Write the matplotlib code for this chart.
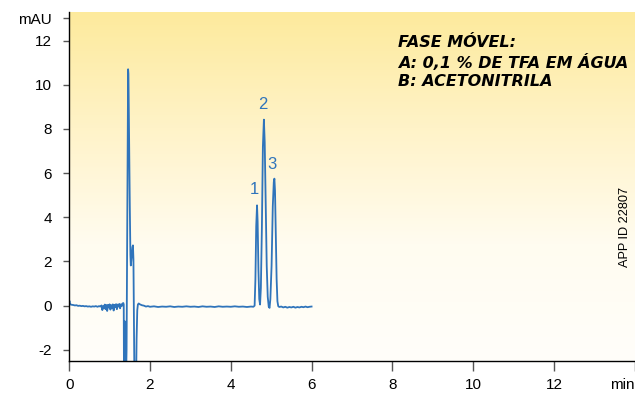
import numpy as np
import matplotlib.pyplot as plt
from matplotlib.colors import LinearSegmentedColormap

plt.rcParams['font.family'] = ['Liberation Sans', 'DejaVu Sans']

# chromatogram trace: retention time (min) and absorbance (mAU)
time_min = [
    0.000, 0.005, 0.012, 0.03, 0.06, 0.10, 0.14, 0.18, 0.22, 0.26, 0.30, 0.34,
    0.38, 0.42, 0.46, 0.50, 0.54, 0.58, 0.62, 0.66, 0.70, 0.74, 0.77, 0.80,
    0.82, 0.84, 0.86, 0.88, 0.90, 0.92, 0.94, 0.96, 0.98, 1.00, 1.02, 1.04,
    1.06, 1.08, 1.10, 1.12, 1.14, 1.16, 1.18, 1.20, 1.22, 1.24, 1.26, 1.28,
    1.30, 1.32, 1.34,
    1.350, 1.356, 1.366, 1.372, 1.380, 1.386, 1.405, 1.420, 1.440, 1.458,
    1.466, 1.480, 1.500, 1.515, 1.525, 1.545, 1.565, 1.578, 1.590, 1.605,
    1.615, 1.655, 1.668, 1.685, 1.700, 1.720, 1.750, 1.80,
    1.85, 1.90, 1.95, 2.00, 2.10, 2.20, 2.30, 2.40, 2.50, 2.60, 2.70, 2.80,
    2.90, 3.00, 3.10, 3.20, 3.30, 3.40, 3.50, 3.60, 3.70, 3.80, 3.90, 4.00,
    4.10, 4.20, 4.30, 4.40, 4.50, 4.56,
    4.59, 4.61, 4.63, 4.650, 4.665, 4.685, 4.705, 4.725, 4.745, 4.770, 4.795,
    4.820, 4.840, 4.865, 4.890, 4.915, 4.940, 4.960, 4.980, 5.010, 5.040,
    5.065, 5.080, 5.095, 5.115, 5.135, 5.155, 5.175,
    5.20, 5.25, 5.30, 5.35, 5.40, 5.45, 5.50, 5.55, 5.60, 5.65, 5.70, 5.75,
    5.80, 5.85, 5.90, 5.95, 6.00,
]
signal_mau = [
    0.05, 0.22, 0.10, 0.06, 0.04, 0.03, 0.01, 0.02, -0.01, 0.00, -0.02, -0.01,
    -0.03, -0.02, -0.04, -0.03, -0.05, -0.03, -0.04, -0.02, -0.05, -0.02, -0.04, 0.01,
    -0.20, -0.02, -0.12, 0.05, -0.16, 0.03, -0.24, 0.04, -0.08, 0.06, -0.18, 0.02,
    -0.10, 0.06, -0.22, 0.04, -0.06, 0.07, -0.16, 0.05, -0.04, 0.08, -0.12, 0.06,
    -0.02, 0.10, 0.12,
    0.05, -3.5, -3.5, -0.70, -0.75, -3.5, -3.5, -2.0, 5.0, 10.7,
    10.5, 8.0, 4.5, 2.3, 1.82, 2.2, 2.65, 2.73, 2.1, -1.0,
    -3.5, -3.5, -1.5, -0.2, 0.05, 0.10, 0.06, 0.02,
    0.00, -0.04, -0.02, -0.05, -0.03, -0.06, -0.04, -0.05, -0.03, -0.06, -0.04, -0.05,
    -0.03, -0.05, -0.04, -0.06, -0.03, -0.05, -0.04, -0.06, -0.03, -0.05, -0.04, -0.05,
    -0.03, -0.05, -0.04, -0.06, -0.04, -0.05,
    0.00, 1.2, 3.6, 4.54, 3.8, 1.6, 0.3, 0.05, 0.8, 3.5, 7.2,
    8.42, 7.4, 4.5, 1.8, 0.4, -0.05, -0.10, 0.3, 1.8, 4.5,
    5.6, 5.75, 5.2, 3.3, 1.2, 0.2, -0.02,
    -0.06, -0.04, -0.08, -0.05, -0.09, -0.06, -0.08, -0.05, -0.09, -0.06, -0.08, -0.05,
    -0.07, -0.04, -0.07, -0.05, -0.04,
]

peak_ids = ["1", "2", "3"]
peak_label_t = [4.58, 4.80, 5.03]
peak_label_y = [5.25, 9.1, 6.4]

x_ticks = [0, 2, 4, 6, 8, 10, 12, 14]
x_tick_labels = ["0", "2", "4", "6", "8", "10", "12", "min"]
y_ticks = [-2, 0, 2, 4, 6, 8, 10, 12, 13]
y_tick_labels = ["-2", "0", "2", "4", "6", "8", "10", "12", "mAU"]

blue = "#2f74bb"

fig = plt.figure(figsize=(6.35, 3.94), dpi=100)
ax = fig.add_axes([0.109, 0.084, 0.8905, 0.886])
xmin, xmax, ymin, ymax = 0, 14, -2.5, 13.3

# yellow-to-white background fade
bg = LinearSegmentedColormap.from_list(
    "bg", ["#fffefa", "#fffcf0", "#fff3c8", "#fdea9c"])
grad = np.linspace(0, 1, 256).reshape(-1, 1)
ax.imshow(grad, cmap=bg, origin="lower", aspect="auto",
          extent=[xmin, xmax, ymin, ymax], zorder=0)

ax.plot(time_min, signal_mau, color=blue, lw=1.3, zorder=2)

for lab, t, y in zip(peak_ids, peak_label_t, peak_label_y):
    ax.text(t, y, lab, color=blue, fontsize=12, ha="center", va="center")

ax.set_xlim(xmin, xmax)
ax.set_ylim(ymin, ymax)
ax.set_xticks(x_ticks)
ax.set_xticklabels(x_tick_labels)
ax.set_yticks(y_ticks)
ax.set_yticklabels(y_tick_labels)
ax.get_xticklabels()[-1].set_ha("right")

ax.tick_params(axis="x", direction="out", length=7, width=1, color="#555555",
               labelsize=11, pad=5)
ax.tick_params(axis="y", direction="out", length=4.5, width=1, color="#555555",
               labelsize=11, pad=8)
for side in ["top", "right"]:
    ax.spines[side].set_visible(False)
for side in ["left", "bottom"]:
    ax.spines[side].set_linewidth(1)
    ax.spines[side].set_zorder(3)

ax.text(0.581, 0.934, "FASE MÓVEL:\nA: 0,1 % DE TFA EM ÁGUA\nB: ACETONITRILA",
        transform=ax.transAxes, family="DejaVu Sans", fontsize=11.5,
        fontweight="bold", fontstyle="italic", va="top", ha="left",
        linespacing=1.27)
ax.text(0.983, 0.384, "APP ID 22807", transform=ax.transAxes, rotation=90,
        fontsize=9.2, ha="center", va="center")

fig.savefig("out.png", dpi=100)
